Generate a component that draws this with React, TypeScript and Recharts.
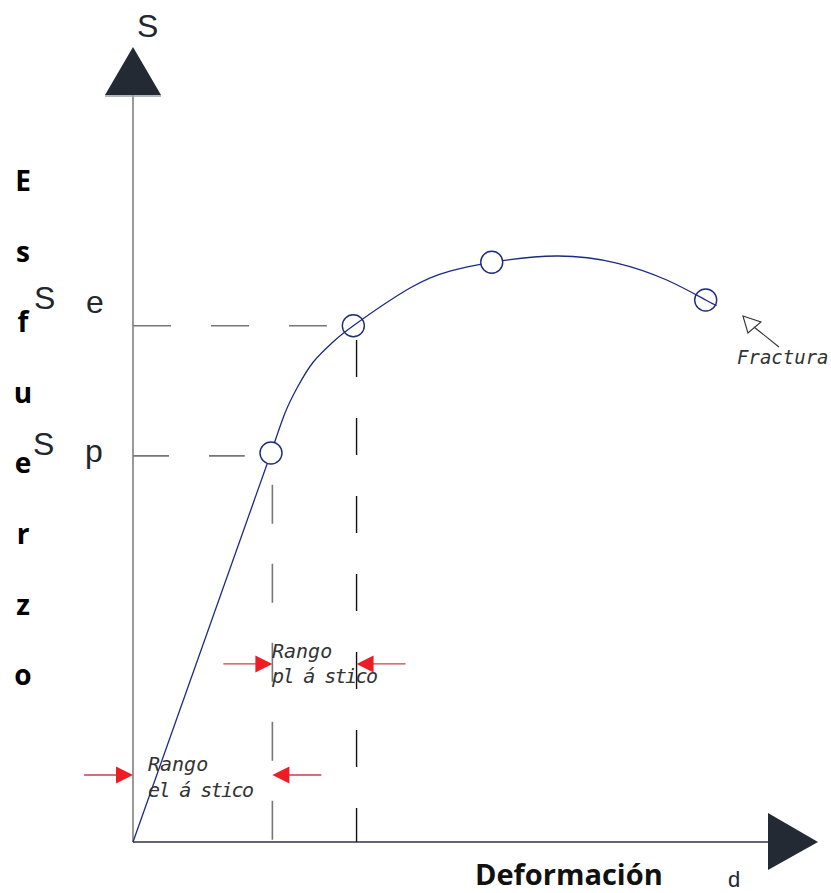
import {
  ComposedChart,
  Line,
  Scatter,
  XAxis,
  YAxis,
  ReferenceLine,
  ReferenceDot,
} from "recharts";

// ── Data (strain %, stress %) ────────────────────────────────────────

const elasticStrain = [0, 20.0];
const elasticStress = [0, 47.15];

const plasticStrain = [
  20.0, 22.03, 23.77, 26.13, 28.99, 31.93, 40.14, 45.94, 51.99, 61.41, 70.1,
  77.35, 83.0, 84.59,
];
const plasticStress = [
  47.15, 52.0, 55.03, 58.18, 60.61, 62.58, 67.15, 69.21, 70.27, 71.03, 70.18,
  68.12, 65.7, 65.03,
];

const keyNames = ["Sp", "Se", "Su", "Fractura"];
const keyStrain = [20.0, 31.93, 51.99, 83.0];
const keyStress = [47.15, 62.58, 70.27, 65.7];

const yAxisTop = 90.55;
const xAxisEnd = 92.03;
const plasticLimit = 32.4;
const elasticLevel = 8.12;
const plasticLevel = 21.58;
const fracturaTip = { x: 88.4, y: 63.76 };

const yLetters = ["E", "s", "f", "u", "e", "r", "z", "o"];

const elastic = elasticStrain.map((x, i) => ({ x, y: elasticStress[i] }));
const plastic = plasticStrain.map((x, i) => ({ x, y: plasticStress[i] }));
const keyPoints = keyStrain.map((x, i) => ({
  x,
  y: keyStress[i],
  name: keyNames[i],
}));

const NAVY = "#1c2a80";
const RED = "#ee1c25";
const SHAFT = "#c8404a";
const W = 831;
const H = 893;

// ── Shapes ───────────────────────────────────────────────────────────

const KeyCircle = (props: any) => {
  const { cx, cy, payload } = props;
  const hollow = payload && (payload.name === "Se" || payload.name === "Fractura");
  return (
    <circle
      cx={cx}
      cy={cy}
      r={11}
      fill={hollow ? "none" : "#fff"}
      stroke={NAVY}
      strokeWidth={1.4}
    />
  );
};

const UpArrowHead = (props: any) => {
  const { cx, cy } = props;
  return (
    <g>
      <polygon
        points={`${cx - 28},${cy} ${cx + 28},${cy} ${cx},${cy - 48}`}
        fill="#232a33"
      />
      <line x1={cx - 28} x2={cx + 28} y1={cy + 1} y2={cy + 1} stroke="#9aa0a6" strokeWidth={1.5} />
    </g>
  );
};

const RightArrowHead = (props: any) => {
  const { cx, cy } = props;
  return (
    <polygon
      points={`${cx},${cy - 29} ${cx},${cy + 28} ${cx + 50},${cy}`}
      fill="#232a33"
    />
  );
};

const rangeArrow = (dir: "right" | "left") => (props: any) => {
  const { cx, cy } = props;
  const s = dir === "right" ? -1 : 1;
  return (
    <g>
      <line x1={cx + s * 15} x2={cx + s * 49} y1={cy} y2={cy} stroke={SHAFT} strokeWidth={1.3} />
      <polygon
        points={`${cx},${cy} ${cx + s * 17},${cy - 8.5} ${cx + s * 17},${cy + 8.5}`}
        fill={RED}
      />
    </g>
  );
};

const FracturaArrow = (props: any) => {
  const { cx, cy } = props;
  return (
    <g fill="none" stroke="#333" strokeWidth={1.1}>
      <polygon points={`${cx},${cy} ${cx + 18},${cy + 6} ${cx + 5},${cy + 17}`} fill="#fff" />
      <line x1={cx + 11} y1={cy + 11} x2={cx + 36} y2={cy + 31} />
    </g>
  );
};

// ── Component ────────────────────────────────────────────────────────

export default function App() {
  const mono = {
    fontFamily: "DejaVu Sans Mono",
    fontStyle: "italic" as const,
    fontSize: 20,
    fill: "#333",
  };
  const sans = { fontFamily: "Liberation Sans", fontSize: 32, fill: "#22272e" };
  const bold = {
    fontFamily: "Open Sans",
    fontWeight: 700,
    fill: "#000",
  };

  return (
    <div style={{ position: "absolute", left: 0, top: 0, width: W, height: H, background: "#fff" }}>
      <ComposedChart width={W} height={H} margin={{ top: 17, right: 8, bottom: 51, left: 133 }}>
        <XAxis type="number" dataKey="x" domain={[0, 100]} hide />
        <YAxis type="number" dataKey="y" domain={[0, 100]} hide />

        {/* axes */}
        <ReferenceLine
          segment={[{ x: 0, y: 0 }, { x: 0, y: yAxisTop }]}
          stroke="#808080"
          strokeWidth={1.6}
          ifOverflow="visible"
        />
        <ReferenceLine
          segment={[{ x: 0, y: 0 }, { x: xAxisEnd, y: 0 }]}
          stroke="#2f3640"
          strokeWidth={1.6}
          ifOverflow="visible"
        />
        <ReferenceDot x={0} y={yAxisTop} r={0} ifOverflow="visible" shape={UpArrowHead} />
        <ReferenceDot x={xAxisEnd} y={0} r={0} ifOverflow="visible" shape={RightArrowHead} />

        {/* guides */}
        <ReferenceLine
          segment={[{ x: 0, y: keyStress[1] }, { x: 28.1, y: keyStress[1] }]}
          stroke="#777"
          strokeWidth={1.6}
          strokeDasharray="38 40"
          ifOverflow="visible"
        />
        <ReferenceLine
          segment={[{ x: 0, y: keyStress[0] - 0.35 }, { x: 16.2, y: keyStress[0] - 0.35 }]}
          stroke="#777"
          strokeWidth={1.6}
          strokeDasharray="36 40"
          ifOverflow="visible"
        />
        <ReferenceLine
          segment={[{ x: keyStrain[0] + 0.2, y: 43.3 }, { x: keyStrain[0] + 0.2, y: 0 }]}
          stroke="#777"
          strokeWidth={1.6}
          strokeDasharray="39 40"
          ifOverflow="visible"
        />
        <ReferenceLine
          segment={[{ x: plasticLimit, y: 60.85 }, { x: plasticLimit, y: 0 }]}
          stroke="#111"
          strokeWidth={1.4}
          strokeDasharray="37 41"
          ifOverflow="visible"
        />

        {/* range arrows */}
        <ReferenceDot x={0} y={elasticLevel} r={0} ifOverflow="visible" shape={rangeArrow("right")} />
        <ReferenceDot x={keyStrain[0] + 0.2} y={elasticLevel} r={0} ifOverflow="visible" shape={rangeArrow("left")} />
        <ReferenceDot x={keyStrain[0] + 0.2} y={plasticLevel} r={0} ifOverflow="visible" shape={rangeArrow("right")} />
        <ReferenceDot x={plasticLimit} y={plasticLevel} r={0} ifOverflow="visible" shape={rangeArrow("left")} />

        <ReferenceDot x={fracturaTip.x} y={fracturaTip.y} r={0} ifOverflow="visible" shape={FracturaArrow} />

        {/* curve */}
        <Line
          data={elastic}
          dataKey="y"
          type="linear"
          stroke={NAVY}
          strokeWidth={1.3}
          dot={false}
          isAnimationActive={false}
        />
        <Line
          data={plastic}
          dataKey="y"
          type="natural"
          stroke={NAVY}
          strokeWidth={1.3}
          dot={false}
          isAnimationActive={false}
        />
        <Scatter data={keyPoints} dataKey="y" shape={KeyCircle} isAnimationActive={false} />
      </ComposedChart>

      <svg
        width={W}
        height={H}
        style={{ position: "absolute", left: 0, top: 0, pointerEvents: "none" }}
      >
        <text x={137} y={37} {...sans}>S</text>

        <text x={34} y={309} {...sans}>S</text>
        <text x={86} y={313} {...sans}>e</text>
        <text x={33} y={455} {...sans}>S</text>
        <text x={85} y={462} {...sans}>p</text>

        {yLetters.map((ch, i) => (
          <text key={i} x={23} y={191 + i * 70.6} textAnchor="middle" fontSize={28} {...bold}>
            {ch}
          </text>
        ))}

        <text x={475} y={885} fontSize={29} {...bold} fill="#111">Deformación</text>
        <text x={728} y={887} fontFamily="Liberation Sans" fontSize={22} fill="#22272e">d</text>

        <text x={148} y={771} {...mono}>Rango</text>
        <text x={148} y={797} {...mono} letterSpacing={-1.6}>el á stico</text>
        <text x={272} y={658} {...mono}>Rango</text>
        <text x={272} y={683} {...mono} letterSpacing={-1.6}>pl á stico</text>

        <text x={737} y={364} {...mono} fontSize={19}>Fractura</text>
      </svg>
    </div>
  );
}
